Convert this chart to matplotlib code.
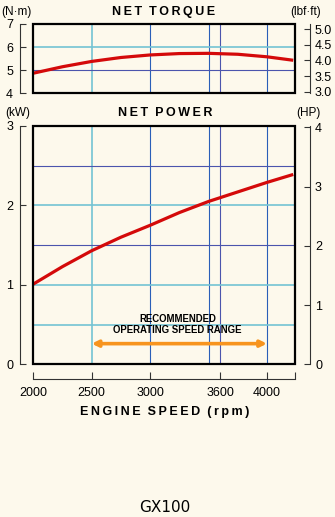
import matplotlib.pyplot as plt
from matplotlib.patches import Rectangle

# Engine curves
rpm = [2000, 2250, 2500, 2750, 3000, 3250, 3500, 3750, 4000, 4225]
torque_nm = [4.87, 5.15, 5.38, 5.55, 5.66, 5.72, 5.73, 5.69, 5.58, 5.43]
power_kw = [1.01, 1.23, 1.43, 1.60, 1.75, 1.91, 2.05, 2.17, 2.29, 2.39]

speed_ticks = [2000, 2500, 3000, 3600, 4000, 4240]
speed_labels = ['2000', '2500', '3000', '3600', '4000', '']
torque_ticks = [4, 5, 6, 7]
lbfft_ticks = [3.0, 3.5, 4.0, 4.5, 5.0]
kw_ticks = [0, 1, 2, 3]
hp_ticks = [0, 1, 2, 3, 4]
range_rpm = [2500, 4000]
range_kw = 0.26

# grid positions
vgrid_teal = [2500]
vgrid_blue = [3000, 3500, 3600, 4000]
torque_hgrid_teal = [6]
torque_hgrid_blue = [5]
power_hgrid_teal = [2, 1, 0.5]
power_hgrid_blue = [2.5, 1.5]

NM_TO_LBFFT = 0.7376
KW_TO_HP = 1.341

BG = '#fdf9ec'
RED = '#d40a0a'
TEAL = '#74c3d3'
BLUE = '#2a5fb8'
PURPLE = '#4b55ad'
ORANGE = '#f7941e'

plt.rcParams['font.family'] = ['Liberation Sans', 'DejaVu Sans']

W, H = 335, 517
fig = plt.figure(figsize=(W / 100, H / 100), dpi=100, facecolor=BG)


def px_box(x0, y0, x1, y1):
    return [x0 / W, 1 - y1 / H, (x1 - x0) / W, (y1 - y0) / H]


def spaced(*words):
    return '  '.join('\u2009'.join(w) for w in words)


def style_panel(ax, ax2, show_x):
    ax.set_facecolor(BG)
    for s in ['top', 'right']:
        ax.spines[s].set_visible(False)
    for s in ['top', 'left', 'bottom']:
        ax2.spines[s].set_visible(False)
    ax.spines['left'].set_position(('outward', 9.6))
    ax2.spines['right'].set_position(('outward', 10.8))
    for sp in [ax.spines['left'], ax.spines['bottom'], ax2.spines['right']]:
        sp.set_linewidth(0.8)
        sp.set_color('#333333')
    ax.tick_params(axis='y', direction='in', length=4.3, width=0.8,
                   color='#333333', pad=5, labelsize=9)
    ax2.tick_params(axis='y', direction='in', length=4.3, width=0.8,
                    color='#333333', pad=3.6, labelsize=9)
    if show_x:
        ax.spines['bottom'].set_position(('outward', 10.8))
        ax.tick_params(axis='x', direction='in', length=4.8, width=0.8,
                       color='#333333', pad=5.3, labelsize=9)
        ax.set_xticks(speed_ticks)
        ax.set_xticklabels(speed_labels)
    else:
        ax.spines['bottom'].set_visible(False)
        ax.set_xticks([])
    ax.add_patch(Rectangle((0, 0), 1, 1, transform=ax.transAxes, fill=False,
                           lw=1.6, ec='black', clip_on=False, zorder=6))
    for x in vgrid_teal:
        ax.axvline(x, color=TEAL, lw=1.2, zorder=1)
    for x in vgrid_blue:
        ax.axvline(x, color=BLUE if x != 3600 else PURPLE, lw=0.8, zorder=1)


# Torque panel
ax1 = fig.add_axes(px_box(33.3, 24, 295, 93.3))
ax1.set_xlim(2000, 4240)
ax1.set_ylim(4, 7)
ax1b = ax1.twinx()
ax1b.set_ylim(4 * NM_TO_LBFFT, 7 * NM_TO_LBFFT)
style_panel(ax1, ax1b, False)
ax1.set_yticks(torque_ticks)
ax1b.set_yticks(lbfft_ticks)
ax1b.set_yticklabels(['%.1f' % v for v in lbfft_ticks])
for y in torque_hgrid_teal:
    ax1.axhline(y, color=TEAL, lw=1.2, zorder=1)
for y in torque_hgrid_blue:
    ax1.axhline(y, color=PURPLE, lw=0.8, zorder=1)
ax1.plot(rpm, torque_nm, color=RED, lw=2.3, zorder=4, solid_capstyle='butt')

# Power panel
ax2 = fig.add_axes(px_box(33.3, 126, 295, 364.3))
ax2.set_xlim(2000, 4240)
ax2.set_ylim(0, 3)
ax2b = ax2.twinx()
ax2b.set_ylim(0, 3 * KW_TO_HP)
style_panel(ax2, ax2b, True)
ax2.set_yticks(kw_ticks)
ax2b.set_yticks(hp_ticks)
for y in power_hgrid_teal:
    ax2.axhline(y, color=TEAL, lw=1.2, zorder=1)
for y in power_hgrid_blue:
    ax2.axhline(y, color=PURPLE, lw=0.8, zorder=1)
ax2.plot(rpm, power_kw, color=RED, lw=2.3, zorder=4, solid_capstyle='butt')

ax2.annotate('', xy=(range_rpm[1], range_kw), xytext=(range_rpm[0], range_kw),
             arrowprops=dict(arrowstyle='<|-|>', color=ORANGE, lw=2.6,
                             mutation_scale=9, shrinkA=0, shrinkB=0),
             zorder=5)
ax2.text(3234, 0.50, 'RECOMMENDED\nOPERATING SPEED RANGE', ha='center',
         va='center', fontsize=6.9, fontweight='bold', linespacing=1.05,
         zorder=5)

# Titles and unit labels
def ftext(x, y, s, **kw):
    fig.text(x / W, 1 - y / H, s, **kw)


ftext(164, 12, spaced('NET', 'TORQUE'), ha='center',
      va='center', fontsize=9, fontweight='bold')
ftext(165, 113.5, spaced('NET', 'POWER'), ha='center',
      va='center', fontsize=9, fontweight='bold')
ftext(165, 412.5, spaced('ENGINE', 'SPEED', '(rpm)'),
      ha='center', va='center', fontsize=9, fontweight='bold')
ftext(16, 12, '(N\u00b7m)', ha='center', va='center', fontsize=8.5)
ftext(306, 12, '(lbf\u00b7ft)', ha='center', va='center', fontsize=8.5)
ftext(18, 113, '(kW)', ha='center', va='center', fontsize=8.5)
ftext(308, 113, '(HP)', ha='center', va='center', fontsize=8.5)
ftext(164.5, 508, 'GX100', ha='center', va='center', fontsize=11,
      family='DejaVu Sans')

fig.savefig('out.png', dpi=100, facecolor=BG)
